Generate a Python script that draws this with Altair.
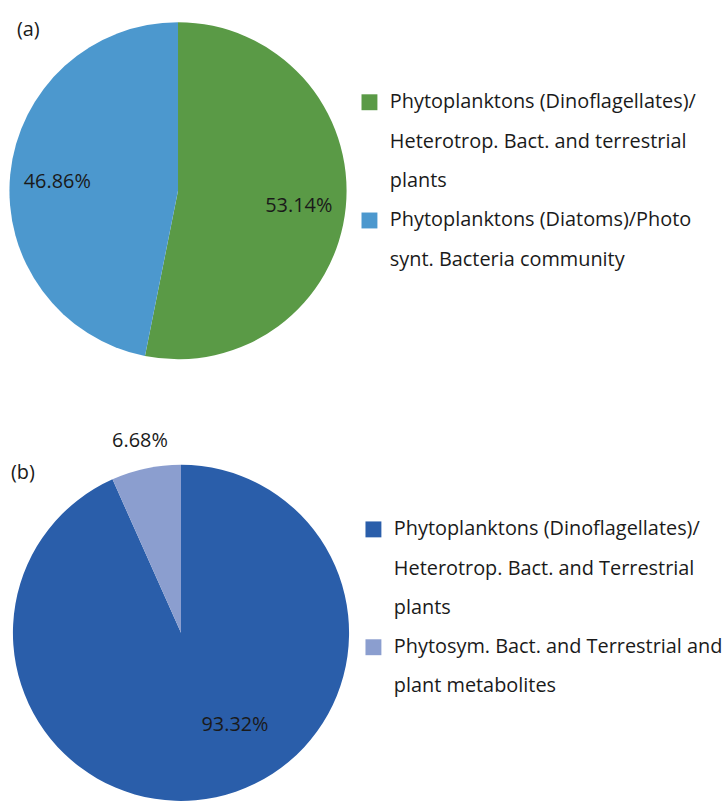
import altair as alt
import pandas as pd

# ---- data -------------------------------------------------------------
panel_tags = ["(a)", "(b)"]

# (a) source apportionment, two groups
lines_a = [
    ["Phytoplanktons (Dinoflagellates)/", "Heterotrop. Bact. and terrestrial", "plants"],
    ["Phytoplanktons (Diatoms)/Photo", "synt. Bacteria community"],
]
values_a = [53.14, 46.86]
colors_a = ["#5A9A46", "#4C98CE"]

# (b) source apportionment, two groups
lines_b = [
    ["Phytoplanktons (Dinoflagellates)/", "Heterotrop. Bact. and Terrestrial", "plants"],
    ["Phytosym. Bact. and Terrestrial and", "plant metabolites"],
]
values_b = [93.32, 6.68]
colors_b = ["#2A5EAA", "#8B9ECF"]

FONT = "Open Sans"
FS = 20
TXT = "#1A1A1A"


def pie_frame(lines, values):
    return pd.DataFrame({
        "category": [" ".join(l) for l in lines],
        "value": values,
        "idx": list(range(len(values))),
    })


def legend_frame(lines):
    rows, k = [], 0
    for j, group in enumerate(lines):
        cat = " ".join(group)
        for i, t in enumerate(group):
            rows.append({"line": k, "text": t, "category": cat, "first": i == 0})
            k += 1
    return pd.DataFrame(rows)


def pie_panel(df, colors, cx, cy, r, tag, tag_xy, label_specs, w, h):
    cscale = alt.Scale(domain=list(df["category"]), range=colors)
    base = alt.Chart(df).transform_calculate(
        label="format(datum.value, '.2f') + '%'"
    ).encode(
        theta=alt.Theta("value:Q", stack=True),
        order=alt.Order("idx:Q"),
    )
    arc = base.mark_arc(radius=r, stroke=None).encode(
        x=alt.value(cx), y=alt.value(cy),
        color=alt.Color("category:N", scale=cscale, legend=None),
    )
    layers = [arc]
    for idx, rad, dx, dy in label_specs:
        layers.append(
            base.transform_calculate(
                shown=f"datum.idx == {idx} ? datum.label : ''"
            ).mark_text(radius=rad, dx=dx, dy=dy, font=FONT, fontSize=FS,
                        color=TXT, align="center", baseline="middle").encode(
                x=alt.value(cx), y=alt.value(cy), text="shown:N"
            )
        )
    tag_layer = alt.Chart(pd.DataFrame({"t": [tag]})).mark_text(
        font=FONT, fontSize=FS, color=TXT, align="left", baseline="middle"
    ).encode(x=alt.value(tag_xy[0]), y=alt.value(tag_xy[1]), text="t:N")
    layers.append(tag_layer)
    return alt.layer(*layers).properties(width=w, height=h)


def legend_panel(lines, colors, sq_x, txt_x, y_range, w, h):
    df = legend_frame(lines)
    n = int(df["line"].max())
    ysc = alt.Scale(domain=[0, n], range=y_range)
    cscale = alt.Scale(domain=[" ".join(l) for l in lines], range=colors)
    sq = alt.Chart(df).transform_filter("datum.first").mark_square(
        size=256, opacity=1
    ).encode(
        x=alt.value(sq_x),
        y=alt.Y("line:Q", scale=ysc, axis=None),
        color=alt.Color("category:N", scale=cscale, legend=None),
    )
    txt = alt.Chart(df).mark_text(
        font=FONT, fontSize=FS, color=TXT, align="left", baseline="middle"
    ).encode(
        x=alt.value(txt_x),
        y=alt.Y("line:Q", scale=ysc, axis=None),
        text="text:N",
    )
    return alt.layer(sq, txt).properties(width=w, height=h)


df_a = pie_frame(lines_a, values_a)
df_b = pie_frame(lines_b, values_b)

pie_a = pie_panel(df_a, colors_a, 179, 189.5, 169.5, panel_tags[0], (17, 28),
                  [(0, 122, 0, 3), (1, 122, 0, 3)], 355, 400)
pie_b = pie_panel(df_b, colors_b, 182, 234, 169, panel_tags[1], (11, 73),
                  [(1, 198, 0, 1), (0, 107, 32, -12)], 355, 403)

leg_a = legend_panel(lines_a, colors_a, 16.5, 37, [100.5, 259], 368, 400)
leg_b = legend_panel(lines_b, colors_b, 20.5, 41, [130, 288], 368, 403)

top = alt.hconcat(pie_a, leg_a, spacing=0).resolve_scale(color="independent", y="independent")
bottom = alt.hconcat(pie_b, leg_b, spacing=0).resolve_scale(color="independent", y="independent")

chart = alt.vconcat(top, bottom, spacing=0).resolve_scale(
    color="independent", y="independent", theta="independent"
).properties(padding=0, background="white").configure_view(stroke=None)

chart.save("out.html", embed_options={"renderer": "svg", "actions": False})
